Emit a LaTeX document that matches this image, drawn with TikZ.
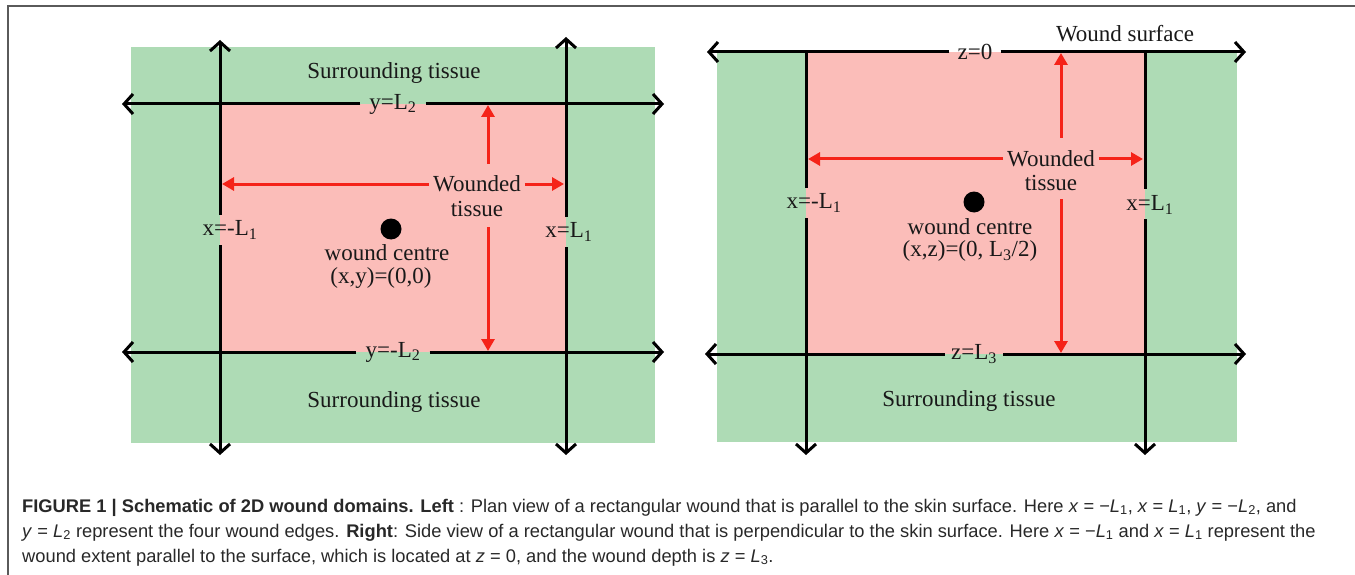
\documentclass[tikz,border=0pt]{standalone}
\usepackage{fontspec}
\setmainfont{Liberation Serif}
\newfontfamily\capfont{Liberation Sans}
\usetikzlibrary{arrows.meta}
\definecolor{tgreen}{RGB}{174,219,181}
\definecolor{tpink}{RGB}{251,189,185}
\definecolor{tred}{RGB}{245,35,25}
\definecolor{framegray}{RGB}{90,90,90}
\definecolor{captxt}{RGB}{40,40,40}
\newcommand{\vr}[1]{\textit{#1}}
\begin{document}
\begin{tikzpicture}[x=1pt,y=-1pt,
  blk/.style={line width=3pt,black},
  barbend/.style={-{Straight Barb[length=9pt,width=20pt]}},
  redarr/.style={line width=3pt,tred,-{Triangle[length=12pt,width=13pt]}},
  lbl/.style={font=\fontsize{23}{26}\selectfont, inner sep=0pt, text=black!90},
  captext/.style={font=\capfont\fontsize{18.3}{21}\selectfont, anchor=base west, inner sep=0pt, text=captxt}]
\useasboundingbox (0,0) rectangle (1355,575);
% frame
\draw[framegray,line width=1.5pt] (8,575) -- (8,6) -- (1355,6);

% ================= LEFT PANEL =================
\fill[tgreen] (131,47) rectangle (655,443);
\fill[tpink] (220,104) rectangle (566,352);

\node[lbl] (stL1) at (394,73) {Surrounding tissue};
\node[lbl] (stL2) at (394,402) {Surrounding tissue};

% horizontal lines
\coordinate (lt1) at (122,104); \coordinate (lt2) at (664,104);
\node[lbl,inner xsep=9pt] (yL2) at (393,104) {y=L\textsubscript{2}};
\draw[blk,barbend] (yL2.west) -- (lt1);
\draw[blk,barbend] (yL2.east) -- (lt2);
\coordinate (lb1) at (122,352); \coordinate (lb2) at (664,352);
\node[lbl,inner xsep=9pt] (ymL2) at (393,352) {y=-L\textsubscript{2}};
\draw[blk,barbend] (ymL2.west) -- (lb1);
\draw[blk,barbend] (ymL2.east) -- (lb2);

% vertical lines
\coordinate (lv1t) at (220,40); \coordinate (lv1b) at (220,455);
\coordinate (lv1g1) at (220,215); \coordinate (lv1g2) at (220,245);
\node[lbl] (xmL1) at (230,230) {x=-L\textsubscript{1}};
\draw[blk,barbend] (lv1g1) -- (lv1t);
\draw[blk,barbend] (lv1g2) -- (lv1b);
\coordinate (lv2t) at (566,37); \coordinate (lv2b) at (566,455);
\coordinate (lv2g1) at (566,217); \coordinate (lv2g2) at (566,247);
\node[lbl] (xL1) at (569,232) {x=L\textsubscript{1}};
\draw[blk,barbend] (lv2g1) -- (lv2t);
\draw[blk,barbend] (lv2g2) -- (lv2b);

% wounded tissue
\node[lbl,inner xsep=4pt] (wdL) at (477,184) {Wounded};
\node[lbl] (tsL) at (477,209) {tissue};
\coordinate (rl1) at (222,184); \coordinate (rl2) at (564,184);
\draw[redarr] (wdL.west) -- (rl1);
\draw[redarr] (wdL.east) -- (rl2);
\coordinate (rv1s) at (488,164); \coordinate (rv1t) at (488,105);
\coordinate (rv2s) at (488,227); \coordinate (rv2t) at (488,351);
\draw[redarr] (rv1s) -- (rv1t);
\draw[redarr] (rv2s) -- (rv2t);

% centre
\fill[black] (391,229) circle (10.5pt) coordinate (cL);
\node[lbl] (wcL) at (387,253) {wound centre};
\node[lbl] (xyL) at (381,278) {(x,y)=(0,0)};

% ================= RIGHT PANEL =================
\fill[tgreen] (717,52) rectangle (1237,442);
\fill[tpink] (806,52) rectangle (1145,354);

\node[lbl] (wsR) at (1125,34) {Wound surface};
\node[lbl] (stR) at (969,401) {Surrounding tissue};

\coordinate (rt1) at (707,52); \coordinate (rt2) at (1246,52);
\node[lbl,inner xsep=8pt] (z0) at (975,52) {z=0};
\draw[blk,barbend] (z0.west) -- (rt1);
\draw[blk,barbend] (z0.east) -- (rt2);
\coordinate (rb1) at (705,354); \coordinate (rb2) at (1246,354);
\node[lbl,inner xsep=6pt] (zL3) at (974,354) {z=L\textsubscript{3}};
\draw[blk,barbend] (zL3.west) -- (rb1);
\draw[blk,barbend] (zL3.east) -- (rb2);

\coordinate (rv1top) at (806,52); \coordinate (rv1bot) at (806,455);
\coordinate (rv1a) at (806,188); \coordinate (rv1b) at (806,218);
\node[lbl] (xmL1R) at (814,203) {x=-L\textsubscript{1}};
\draw[blk] (rv1top) -- (rv1a);
\draw[blk,barbend] (rv1b) -- (rv1bot);
\coordinate (rv2top) at (1145,52); \coordinate (rv2bot) at (1145,455);
\coordinate (rv2a) at (1145,189); \coordinate (rv2b) at (1145,219);
\node[lbl] (xL1R) at (1150,205) {x=L\textsubscript{1}};
\draw[blk] (rv2top) -- (rv2a);
\draw[blk,barbend] (rv2b) -- (rv2bot);

\node[lbl,inner xsep=4pt] (wdR) at (1051,159) {Wounded};
\node[lbl] (tsR) at (1051,183) {tissue};
\coordinate (rr1) at (808,159); \coordinate (rr2) at (1143,159);
\draw[redarr] (wdR.west) -- (rr1);
\draw[redarr] (wdR.east) -- (rr2);
\coordinate (rrv1s) at (1061,138); \coordinate (rrv1t) at (1061,53);
\coordinate (rrv2s) at (1061,199); \coordinate (rrv2t) at (1061,353);
\draw[redarr] (rrv1s) -- (rrv1t);
\draw[redarr] (rrv2s) -- (rrv2t);

\fill[black] (974,202) circle (10.5pt) coordinate (cR);
\node[lbl] (wcR) at (970,227) {wound centre};
\node[lbl] (xzR) at (970,251) {(x,z)=(0, L\textsubscript{3}/2)};

% ================= CAPTION =================
\node[captext] (c1) at (22,512) {\textbf{FIGURE 1 | Schematic of 2D wound domains. Left} : Plan view of a rectangular wound that is parallel to the skin surface. Here \vr{x} = −\vr{L}\textsubscript{1}, \vr{x} = \vr{L}\textsubscript{1}, \vr{y} = −\vr{L}\textsubscript{2}, and};
\node[captext] (c2) at (22,537) {\vr{y} = \vr{L}\textsubscript{2} represent the four wound edges. \textbf{Right}: Side view of a rectangular wound that is perpendicular to the skin surface. Here \vr{x} = −\vr{L}\textsubscript{1} and \vr{x} = \vr{L}\textsubscript{1} represent the};
\node[captext] (c3) at (22,562) {wound extent parallel to the surface, which is located at \vr{z} = 0, and the wound depth is \vr{z} = \vr{L}\textsubscript{3}.};
\end{tikzpicture}
\end{document}
